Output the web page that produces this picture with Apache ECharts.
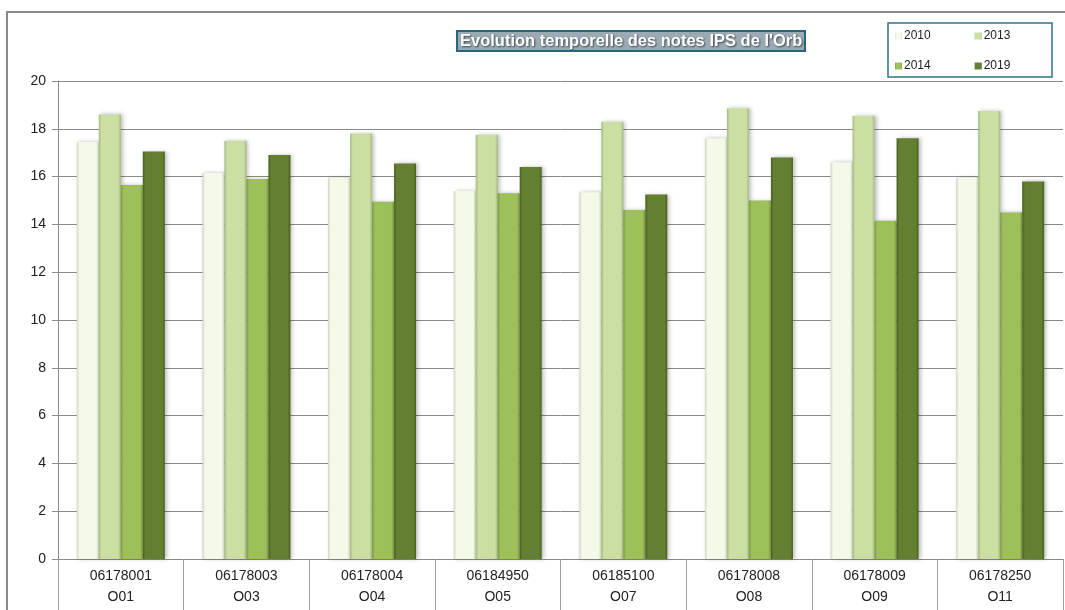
<!DOCTYPE html>
<html>
<head>
<meta charset="utf-8">
<script src="https://cdn.jsdelivr.net/npm/echarts@6/dist/echarts.min.js"></script>
<style>html,body{margin:0;padding:0;background:#fff}#c{width:1065px;height:610px}</style>
</head>
<body>
<div id="c"></div>
<script>
const stations = ['06178001','06178003','06178004','06184950','06185100','06178008','06178009','06178250'];
const codes = ['O01','O03','O04','O05','O07','O08','O09','O11'];
const years = ['2010','2013','2014','2019'];
const v2010 = [17.45, 16.15, 15.95, 15.4, 15.35, 17.6, 16.6, 15.95];
const v2013 = [18.6, 17.5, 17.8, 17.75, 18.3, 18.85, 18.55, 18.75];
const v2014 = [15.65, 15.9, 14.95, 15.3, 14.6, 15.0, 14.15, 14.5];
const v2019 = [17.05, 16.9, 16.55, 16.4, 15.25, 16.8, 17.6, 15.8];
const yTicks = [0,2,4,6,8,10,12,14,16,18,20];

const categories = stations.map((s,i)=> s + '\n' + codes[i]);
const palette = [
  {base:'#f5f9e8', edge:'#d0d5c0'},
  {base:'#cbdfa3', edge:'#a5b981'},
  {base:'#9dc05a', edge:'#7a9841'},
  {base:'#62802f', edge:'#475f20'}
];
function grad(p){
  return new echarts.graphic.LinearGradient(0,0,1,0,[
    {offset:0, color:p.edge},
    {offset:0.12, color:p.base},
    {offset:0.88, color:p.base},
    {offset:1, color:p.edge}
  ]);
}
const values = [v2010, v2013, v2014, v2019];
const series = years.map((y,i)=>({
  name:y, type:'bar', data:values[i], barWidth:22, barGap:'0%',
  itemStyle:{color:grad(palette[i]), shadowColor:'rgba(0,0,0,0.25)', shadowBlur:4, shadowOffsetX:2, shadowOffsetY:0},
  emphasis:{disabled:true}
}));

const chart = echarts.init(document.getElementById('c'), null, {renderer:'canvas'});
chart.setOption({
  animation:false,
  backgroundColor:'#fff',
  textStyle:{fontFamily:'Liberation Sans, Arial, sans-serif'},
  title:{
    text:'Evolution temporelle des notes IPS de l\'Orb',
    left:457, top:31,
    padding:[2,3,1,3],
    backgroundColor:'#9aabb5', borderColor:'#24677f', borderWidth:2,
    textStyle:{color:'#ffffff', fontSize:16.5, fontWeight:'bold', fontFamily:'Liberation Sans, Arial, sans-serif',
      textShadowColor:'rgba(0,0,0,0.6)', textShadowBlur:2, textShadowOffsetX:1, textShadowOffsetY:1}
  },
  legend:[
    {data:['2010','2013'], left:890, top:25, itemWidth:7, itemHeight:7, itemGap:44, icon:'rect',
     textStyle:{fontSize:12, color:'#222', padding:[0,0,0,-3]}},
    {data:['2014','2019'], left:890, top:55, itemWidth:7, itemHeight:7, itemGap:44, icon:'rect',
     textStyle:{fontSize:12, color:'#222', padding:[0,0,0,-3]}}
  ],
  graphic:[
    {type:'rect', shape:{x:7, y:12, width:1070, height:620}, style:{fill:'none', stroke:'#8a8a8a', lineWidth:2}, silent:true},
    {type:'rect', shape:{x:888, y:23, width:164, height:54}, style:{fill:'none', stroke:'#2f728e', lineWidth:1.5}, silent:true}
  ],
  grid:{left:58, right:2, top:81, bottom:51, containLabel:false},
  xAxis:{
    type:'category', data:categories, boundaryGap:true,
    axisLine:{lineStyle:{color:'#8a8a8a', width:1}},
    axisTick:{show:true, length:52, lineStyle:{color:'#a0a0a0'}},
    axisLabel:{fontSize:14, color:'#222', lineHeight:21, margin:7, interval:0}
  },
  yAxis:{
    type:'value', min:0, max:20, interval:2,
    axisLine:{show:true, lineStyle:{color:'#8a8a8a'}},
    axisTick:{show:true, length:6, inside:false, lineStyle:{color:'#8a8a8a'}},
    axisLabel:{fontSize:14, color:'#222', margin:12,
      formatter:(v)=> yTicks.includes(v) ? String(v) : ''},
    splitLine:{show:true, lineStyle:{color:'#8a8a8a', width:1}}
  },
  series: series
});
</script>
</body>
</html>
